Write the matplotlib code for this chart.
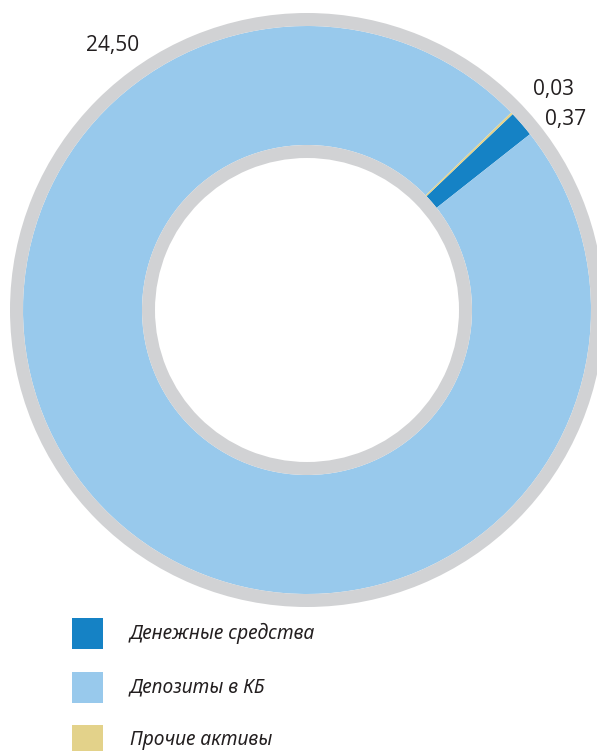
import matplotlib
matplotlib.use("Agg")
import matplotlib.pyplot as plt
from matplotlib.patches import Wedge, Rectangle

# данные
categorias = ["Денежные средства", "Депозиты в КБ", "Прочие активы"]
valores = [0.37, 24.50, 0.03]
etiquetas = ["0,37", "24,50", "0,03"]
colores = ["#1582c5", "#98c9ec", "#e3d28a"]
gris = "#d1d2d4"
texto = "#231f20"

W, H = 597, 751
fig = plt.figure(figsize=(W / 100, H / 100), dpi=100)
ax = fig.add_axes([0, 0, 1, 1])

cx, cy = 307, H - 310   # centro del anillo
r_ext, r_int = 284, 165

ax.pie(valores, colors=colores, center=(cx, cy), radius=r_ext,
       startangle=43.6, counterclock=False,
       wedgeprops=dict(width=r_ext - r_int, linewidth=0))

# bordes grises
ax.add_patch(Wedge((cx, cy), r_ext + 13, 0, 360, width=13, color=gris, lw=0))
ax.add_patch(Wedge((cx, cy), r_int, 0, 360, width=13, color=gris, lw=0))

ax.set_xlim(0, W)
ax.set_ylim(0, H)
ax.set_aspect("equal")
ax.axis("off")

# etiquetas de valores
pos_etiq = [(566, 120), (113, 45), (553, 89)]
for et, (x, y) in zip(etiquetas, pos_etiq):
    ax.text(x, H - y, et, fontsize=15, color=texto, family="Open Sans",
            ha="center", va="center")

# leyenda
for i, (cat, col) in enumerate(zip(categorias, colores)):
    y0 = 618 + i * 53.5
    ax.add_patch(Rectangle((72, H - y0 - 31), 31, 31, color=col, lw=0))
    ax.text(130, H - y0 - 15.5, cat, fontsize=13.8, style="italic",
            family="Noto Sans", color=texto, va="center", ha="left")

fig.savefig("out.png", dpi=100)
